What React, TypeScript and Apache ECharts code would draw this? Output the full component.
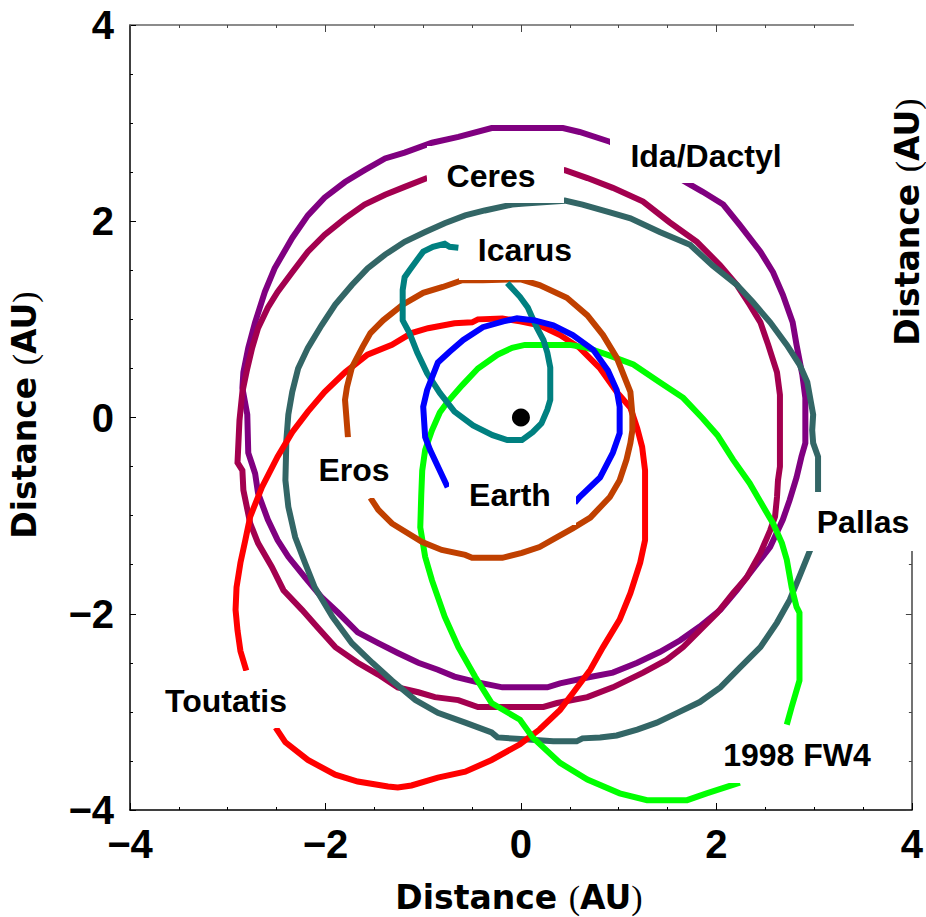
import React, { useEffect, useRef } from 'react';
import * as echarts from 'echarts';

const tickValues = [-4, -2, 0, 2, 4];
const tickLabels = ['\u22124', '\u22122', '0', '2', '4'];

const earth = [
  [-0.75, -0.71], [-0.93, -0.33], [-0.98, -0.2], [-1.0, 0.11], [-0.96, 0.28], [-0.85, 0.56],
  [-0.73, 0.67], [-0.59, 0.79], [-0.39, 0.92], [-0.18, 0.98], [-0.04, 1.01], [0.14, 0.99],
  [0.33, 0.94], [0.53, 0.84], [0.74, 0.69], [0.89, 0.48], [0.98, 0.28], [1.01, 0.11],
  [1.01, -0.16], [0.94, -0.36], [0.81, -0.61], [0.6, -0.81], [0.55, -0.87],
];

const eros = [
  [-1.77, -0.2], [-1.8, 0.18], [-1.78, 0.31], [-1.73, 0.51], [-1.62, 0.72], [-1.54, 0.86],
  [-1.41, 0.99], [-1.21, 1.15], [-1.0, 1.27], [-0.8, 1.33], [-0.6, 1.4], [-0.39, 1.4],
  [-0.01, 1.41], [0.19, 1.35], [0.47, 1.22], [0.68, 1.04], [0.84, 0.84], [0.98, 0.61],
  [1.08, 0.36], [1.12, 0.26], [1.14, 0.03], [1.14, -0.13], [1.12, -0.26], [1.08, -0.43],
  [1.01, -0.64], [0.91, -0.81], [0.71, -1.02], [0.53, -1.13], [0.37, -1.22], [0.19, -1.32],
  [0.01, -1.38], [-0.19, -1.43], [-0.5, -1.43], [-0.57, -1.4], [-0.81, -1.35], [-1.01, -1.27],
  [-1.32, -1.08], [-1.46, -0.94], [-1.54, -0.82],
];

const icarus = [
  [-0.64, 1.73], [-0.73, 1.74], [-0.78, 1.77], [-0.9, 1.74], [-1.0, 1.69], [-1.06, 1.61],
  [-1.14, 1.5], [-1.19, 1.43], [-1.21, 1.3], [-1.21, 0.99], [-1.14, 0.86], [-1.06, 0.66],
  [-0.96, 0.45], [-0.83, 0.25], [-0.68, 0.06], [-0.49, -0.08], [-0.29, -0.18], [-0.14, -0.23],
  [0.01, -0.23], [0.12, -0.15], [0.21, -0.06], [0.27, 0.08], [0.3, 0.18], [0.3, 0.51],
  [0.27, 0.66], [0.23, 0.79], [0.16, 0.92], [0.07, 1.12], [-0.01, 1.23], [-0.14, 1.37],
];

const toutatis = [
  [-2.51, -3.16], [-2.41, -3.31], [-2.18, -3.49], [-1.9, -3.64], [-1.67, -3.71], [-1.36, -3.76],
  [-1.26, -3.77], [-1.12, -3.75], [-0.85, -3.67], [-0.57, -3.61], [-0.3, -3.49], [-0.01, -3.33],
  [0.19, -3.18], [0.4, -2.98], [0.53, -2.81], [0.71, -2.57], [0.84, -2.34], [1.01, -2.06],
  [1.12, -1.79], [1.22, -1.48], [1.27, -1.25], [1.27, -0.54], [1.24, -0.3], [1.19, -0.11],
  [1.12, 0.1], [0.98, 0.26], [0.81, 0.5], [0.6, 0.71], [0.4, 0.84], [0.19, 0.94],
  [-0.01, 0.98], [-0.19, 1.01], [-0.44, 1.0], [-0.5, 0.97], [-0.68, 0.96], [-0.95, 0.91],
  [-1.12, 0.86], [-1.32, 0.74], [-1.57, 0.64], [-1.8, 0.46], [-2.01, 0.26], [-2.18, 0.06],
  [-2.34, -0.15], [-2.49, -0.4], [-2.65, -0.71], [-2.77, -1.01], [-2.82, -1.25], [-2.87, -1.48],
  [-2.91, -1.73], [-2.92, -1.96], [-2.9, -2.17], [-2.87, -2.38], [-2.81, -2.58],
];

const fw4 = [
  [2.24, -3.72], [1.9, -3.83], [1.7, -3.9], [1.29, -3.9], [1.01, -3.83], [0.68, -3.69],
  [0.4, -3.52], [0.12, -3.26], [-0.01, -3.08], [-0.3, -2.91], [-0.47, -2.64], [-0.64, -2.34],
  [-0.78, -2.03], [-0.91, -1.66], [-0.98, -1.42], [-1.03, -1.12], [-1.02, -0.79], [-1.01, -0.54],
  [-0.98, -0.33], [-0.91, -0.13], [-0.83, 0.05], [-0.75, 0.16], [-0.6, 0.33], [-0.44, 0.5],
  [-0.24, 0.64], [-0.09, 0.71], [0.04, 0.74], [0.25, 0.74], [0.5, 0.74], [0.68, 0.71],
  [0.88, 0.64], [1.15, 0.54], [1.42, 0.36], [1.66, 0.2], [1.86, -0.01], [2.01, -0.18],
  [2.17, -0.43], [2.34, -0.67], [2.48, -0.91], [2.58, -1.08], [2.67, -1.28], [2.72, -1.45],
  [2.77, -1.73], [2.82, -1.93], [2.85, -1.99], [2.85, -2.68], [2.82, -2.78], [2.77, -2.95],
  [2.72, -3.13],
];

const ceres = [
  [-0.96, 2.44], [-1.19, 2.35], [-1.39, 2.27], [-1.6, 2.17], [-1.8, 2.03], [-2.01, 1.86],
  [-2.18, 1.69], [-2.34, 1.48], [-2.49, 1.28], [-2.59, 1.12], [-2.69, 0.91], [-2.75, 0.71],
  [-2.8, 0.5], [-2.85, 0.26], [-2.88, -0.03], [-2.9, -0.46], [-2.85, -0.54], [-2.84, -0.74],
  [-2.77, -1.08], [-2.69, -1.28], [-2.55, -1.52], [-2.43, -1.76], [-2.24, -1.96], [-2.08, -2.14],
  [-1.9, -2.34], [-1.67, -2.5], [-1.46, -2.62], [-1.26, -2.75], [-1.05, -2.8], [-0.88, -2.85],
  [-0.64, -2.88], [-0.44, -2.95], [0.23, -2.95], [0.37, -2.91], [0.68, -2.85], [0.94, -2.75],
  [1.25, -2.6], [1.49, -2.47], [1.66, -2.34], [1.83, -2.17], [2.01, -1.99], [2.17, -1.79],
  [2.31, -1.63], [2.45, -1.38], [2.55, -1.15], [2.6, -1.01], [2.62, -0.81], [2.63, -0.64],
  [2.65, -0.5], [2.65, 0.23], [2.62, 0.46], [2.53, 0.74], [2.45, 0.97], [2.34, 1.15],
  [2.21, 1.35], [2.04, 1.55], [1.8, 1.79], [1.52, 1.99], [1.25, 2.2], [0.94, 2.34],
  [0.68, 2.44], [0.45, 2.52], [-0.27, 2.59], [-0.96, 2.44],
];

const ida = [
  [0.91, 2.81], [0.6, 2.91], [0.43, 2.95], [-0.01, 2.95], [-0.3, 2.95], [-0.64, 2.86],
  [-0.91, 2.8], [-1.19, 2.7], [-1.39, 2.64], [-1.6, 2.52], [-1.8, 2.4], [-2.01, 2.24],
  [-2.18, 2.06], [-2.34, 1.83], [-2.52, 1.52], [-2.62, 1.28], [-2.72, 0.97], [-2.79, 0.71],
  [-2.84, 0.46], [-2.85, 0.3], [-2.8, 0.03], [-2.79, -0.36], [-2.72, -0.57], [-2.69, -0.77],
  [-2.59, -1.04], [-2.49, -1.25], [-2.38, -1.42], [-2.21, -1.63], [-2.04, -1.83], [-1.87, -1.99],
  [-1.67, -2.19], [-1.46, -2.3], [-1.26, -2.4], [-1.05, -2.5], [-0.85, -2.57], [-0.68, -2.64],
  [-0.44, -2.7], [-0.19, -2.75], [0.27, -2.75], [0.4, -2.71], [0.68, -2.65], [0.94, -2.6],
  [1.19, -2.5], [1.42, -2.39], [1.63, -2.27], [1.83, -2.13], [2.04, -1.96], [2.21, -1.76],
  [2.37, -1.55], [2.55, -1.32], [2.68, -1.04], [2.75, -0.84], [2.82, -0.61], [2.87, -0.4],
  [2.91, -0.26], [2.91, 0.2], [2.88, 0.43], [2.82, 0.74], [2.78, 0.97], [2.68, 1.25],
  [2.58, 1.48], [2.45, 1.69], [2.24, 1.96], [2.07, 2.17], [1.86, 2.3], [1.7, 2.39],
  [1.32, 2.62], [0.91, 2.81],
];

const pallas = [
  [3.04, -0.76], [3.04, -0.4], [2.99, -0.26], [2.98, -0.13], [2.99, 0.03], [2.93, 0.36],
  [2.85, 0.54], [2.72, 0.74], [2.55, 0.97], [2.37, 1.18], [2.21, 1.35], [1.96, 1.55],
  [1.73, 1.76], [1.42, 1.89], [1.12, 2.03], [0.91, 2.09], [0.63, 2.17], [0.45, 2.21],
  [0.04, 2.18], [-0.09, 2.17], [-0.37, 2.11], [-0.57, 2.06], [-0.78, 1.98], [-0.98, 1.89],
  [-1.19, 1.79], [-1.39, 1.66], [-1.57, 1.52], [-1.73, 1.35], [-1.9, 1.15], [-2.04, 0.94],
  [-2.18, 0.71], [-2.28, 0.5], [-2.34, 0.26], [-2.38, 0.03], [-2.4, -0.23], [-2.41, -0.64],
  [-2.38, -0.91], [-2.31, -1.22], [-2.21, -1.48], [-2.11, -1.73], [-1.93, -2.03], [-1.73, -2.3],
  [-1.52, -2.5], [-1.32, -2.68], [-1.08, -2.88], [-0.85, -3.01], [-0.57, -3.11], [-0.3, -3.21],
  [-0.24, -3.26], [0.04, -3.28], [0.33, -3.3], [0.57, -3.3], [0.63, -3.27], [0.81, -3.26],
  [0.98, -3.24], [1.19, -3.18], [1.39, -3.11], [1.6, -3.01], [1.83, -2.9], [2.04, -2.75],
  [2.24, -2.55], [2.45, -2.34], [2.62, -2.09], [2.75, -1.86], [2.85, -1.62], [2.96, -1.35],
];

const sun = [[0, 0]];

const orbitNames = ['Ida/Dactyl', 'Ceres', 'Pallas', 'Toutatis', '1998 FW4', 'Eros', 'Icarus', 'Earth'];
const orbitData = [ida, ceres, pallas, toutatis, fw4, eros, icarus, earth];
const orbitColors = ['#800080', '#A3004F', '#336666', '#FF0000', '#00FF00', '#C04000', '#008080', '#0000FF'];

const labelFont = 'Liberation Sans, Arial, sans-serif';

function labelBox(text: string, bx: number, by: number, bw: number, bh: number, cx: number, cy: number) {
  return [
    { type: 'rect', z: 100, shape: { x: bx, y: by, width: bw, height: bh }, style: { fill: '#ffffff' } },
    {
      type: 'text', z: 101, x: cx, y: cy,
      style: { text, fill: '#000', font: `bold 32px ${labelFont}`, align: 'center', verticalAlign: 'middle' },
    },
  ];
}

const titleRich = {
  b: { fill: '#000', fontSize: 33, fontWeight: 'bold', fontFamily: 'DejaVu Sans, sans-serif' },
  p: { fill: '#000', fontSize: 34, fontWeight: 'normal', fontFamily: 'Liberation Serif, serif' },
};
const titleText = '{b|Distance }{p|(}{b|AU}{p|)}';

export default function App() {
  const ref = useRef<HTMLDivElement>(null);
  useEffect(() => {
    const chart = echarts.init(ref.current as HTMLDivElement, null, { renderer: 'svg' });
    const fmt = (v: number) => {
      const i = tickValues.indexOf(v);
      return i >= 0 ? tickLabels[i] : '';
    };
    const baseAxis = {
      type: 'value', min: -4, max: 4, interval: 2,
      splitLine: { show: false },
      minorSplitLine: { show: false },
    };
    const option: any = {
      animation: false,
      backgroundColor: '#ffffff',
      grid: { left: 130, top: 25, right: 14, bottom: 107, containLabel: false },
      xAxis: [
        {
          ...baseAxis, position: 'bottom',
          axisLine: { onZero: false, lineStyle: { color: '#000', width: 1.5 } },
          axisTick: { inside: true, length: 7, lineStyle: { color: '#000', width: 1 } },
          minorTick: { show: true, splitNumber: 4, length: 3, lineStyle: { color: '#000', width: 1 } },
          axisLabel: { fontSize: 40, fontWeight: 'bold', fontFamily: labelFont, color: '#000', margin: 14, formatter: fmt },
        },
        {
          ...baseAxis, position: 'top',
          axisLine: { onZero: false, lineStyle: { color: '#666', width: 1.5 } },
          axisTick: { inside: true, length: 7, lineStyle: { color: '#444', width: 1 } },
          minorTick: { show: true, splitNumber: 4, length: 3, lineStyle: { color: '#444', width: 1 } },
          axisLabel: { show: false },
        },
      ],
      yAxis: [
        {
          ...baseAxis, position: 'left',
          axisLine: { onZero: false, lineStyle: { color: '#000', width: 1.5 } },
          axisTick: { inside: true, length: 6, lineStyle: { color: '#000', width: 1 } },
          minorTick: { show: true, splitNumber: 4, length: 3, lineStyle: { color: '#000', width: 1 } },
          axisLabel: { fontSize: 40, fontWeight: 'bold', fontFamily: labelFont, color: '#000', margin: 16, formatter: fmt },
        },
        {
          ...baseAxis, position: 'right',
          axisLine: { onZero: false, lineStyle: { color: '#444', width: 1.5 } },
          axisTick: { inside: true, length: 6, lineStyle: { color: '#444', width: 1 } },
          minorTick: { show: true, splitNumber: 4, length: 3, lineStyle: { color: '#444', width: 1 } },
          axisLabel: { show: false },
        },
      ],
      series: [
        ...orbitData.map((d, i) => ({
          name: orbitNames[i],
          type: 'line',
          xAxisIndex: 0, yAxisIndex: 0,
          data: d,
          showSymbol: false, symbol: 'none',
          smooth: false,
          lineStyle: { color: orbitColors[i], width: 6, cap: 'butt', join: 'miter', opacity: 1 },
          z: 2 + i * 0.01,
        })),
        {
          name: 'Sun', type: 'scatter', data: sun, symbol: 'circle', symbolSize: 18,
          itemStyle: { color: '#000', opacity: 1 }, z: 5,
        },
      ],
      graphic: [
        { type: 'rect', z: 100, shape: { x: 854, y: 0, width: 72, height: 493 }, style: { fill: '#ffffff' } },
        ...labelBox('Ceres', 427, 146, 137, 57, 491, 176),
        ...labelBox('Icarus', 459, 221, 133, 59, 525, 250),
        ...labelBox('Ida/Dactyl', 610, 128, 192, 55, 706, 156),
        ...labelBox('Pallas', 797, 492, 129, 59, 863, 522),
        ...labelBox('1998 FW4', 705, 726, 185, 57, 797, 755),
        ...labelBox('Toutatis', 145, 671, 162, 57, 226, 701),
        ...labelBox('Eros', 300, 438, 108, 60, 354, 470),
        ...labelBox('Earth', 449, 467, 127, 58, 510, 495),
        {
          type: 'text', z: 101, x: 519, y: 897,
          style: { text: titleText, rich: titleRich, align: 'center', verticalAlign: 'middle' },
        },
        {
          type: 'text', z: 101, x: 24, y: 415, rotation: Math.PI / 2,
          style: { text: titleText, rich: titleRich, align: 'center', verticalAlign: 'middle' },
        },
        {
          type: 'text', z: 101, x: 907, y: 222, rotation: Math.PI / 2,
          style: { text: titleText, rich: titleRich, align: 'center', verticalAlign: 'middle' },
        },
      ],
    };
    chart.setOption(option);
    return () => chart.dispose();
  }, []);
  return (
    <div
      ref={ref}
      style={{ position: 'absolute', left: 0, top: 0, width: 926, height: 917, background: '#fff' }}
    />
  );
}
